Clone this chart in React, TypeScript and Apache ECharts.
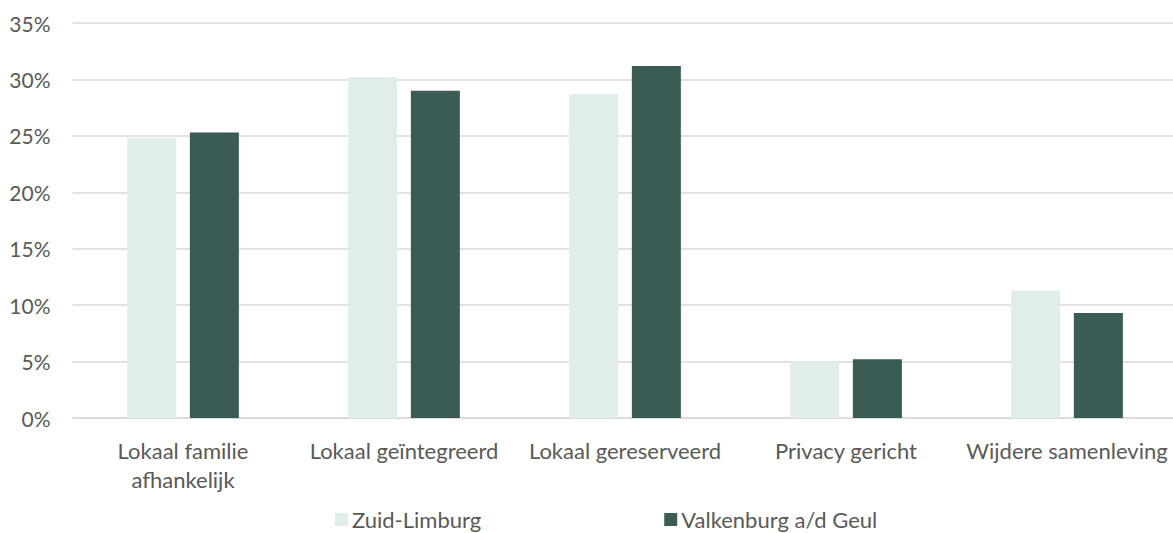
import React, { useEffect, useRef } from "react";
import * as echarts from "echarts";

const categories = [
  "Lokaal familie\nafhankelijk",
  "Lokaal geïntegreerd",
  "Lokaal gereserveerd",
  "Privacy gericht",
  "Wijdere samenleving",
];
const seriesNames = ["Zuid-Limburg", "Valkenburg a/d Geul"];
const zuidLimburg = [0.248, 0.302, 0.287, 0.05, 0.113];
const valkenburg = [0.253, 0.29, 0.312, 0.052, 0.093];
const colors = ["#E0EDEA", "#3A5C55"];

const FONT = "Lato, sans-serif";
const TEXT = "#595959";

export default function App() {
  const ref = useRef<HTMLDivElement>(null);
  useEffect(() => {
    if (!ref.current) return;
    const chart = echarts.init(ref.current, undefined, { renderer: "svg" });
    chart.setOption({
      animation: false,
      textStyle: { fontFamily: FONT },
      grid: { left: 72.5, right: 2.5, top: 23, bottom: 115, containLabel: false },
      legend: {
        data: seriesNames,
        left: 335,
        top: 508,
        padding: 0,
        itemWidth: 13,
        itemHeight: 13,
        itemGap: 183,
        icon: "rect",
        textStyle: { color: TEXT, fontSize: 22, lineHeight: 23, fontFamily: FONT, padding: [0, 0, 0, -1] },
      },
      xAxis: {
        type: "category",
        data: categories,
        axisTick: { show: false },
        axisLine: { lineStyle: { color: "#D9D9D9", width: 1.5 } },
        axisLabel: {
          interval: 0,
          color: TEXT,
          fontSize: 22,
          lineHeight: 29,
          margin: 18,
          fontFamily: FONT,
        },
      },
      yAxis: {
        type: "value",
        min: 0,
        max: 0.35,
        interval: 0.05,
        axisLine: { show: false },
        axisTick: { show: false },
        splitLine: { lineStyle: { color: "#D9D9D9", width: 1.5 } },
        axisLabel: {
          color: TEXT,
          fontSize: 21,
          margin: 22,
          fontFamily: FONT,
          formatter: (v: number) => Math.round(v * 100) + "%",
        },
      },
      series: [
        {
          name: seriesNames[0],
          type: "bar",
          data: zuidLimburg,
          barWidth: 49,
          barGap: "28%",
          itemStyle: { color: colors[0] },
        },
        {
          name: seriesNames[1],
          type: "bar",
          data: valkenburg,
          barWidth: 49,
          barGap: "28%",
          itemStyle: { color: colors[1] },
        },
      ],
    });
    return () => chart.dispose();
  }, []);
  return (
    <div style={{ position: "absolute", left: 0, top: 0, width: 1173, height: 533, overflow: "hidden", background: "#fff" }}>
      <div ref={ref} style={{ width: 1180, height: 533 }} />
    </div>
  );
}
